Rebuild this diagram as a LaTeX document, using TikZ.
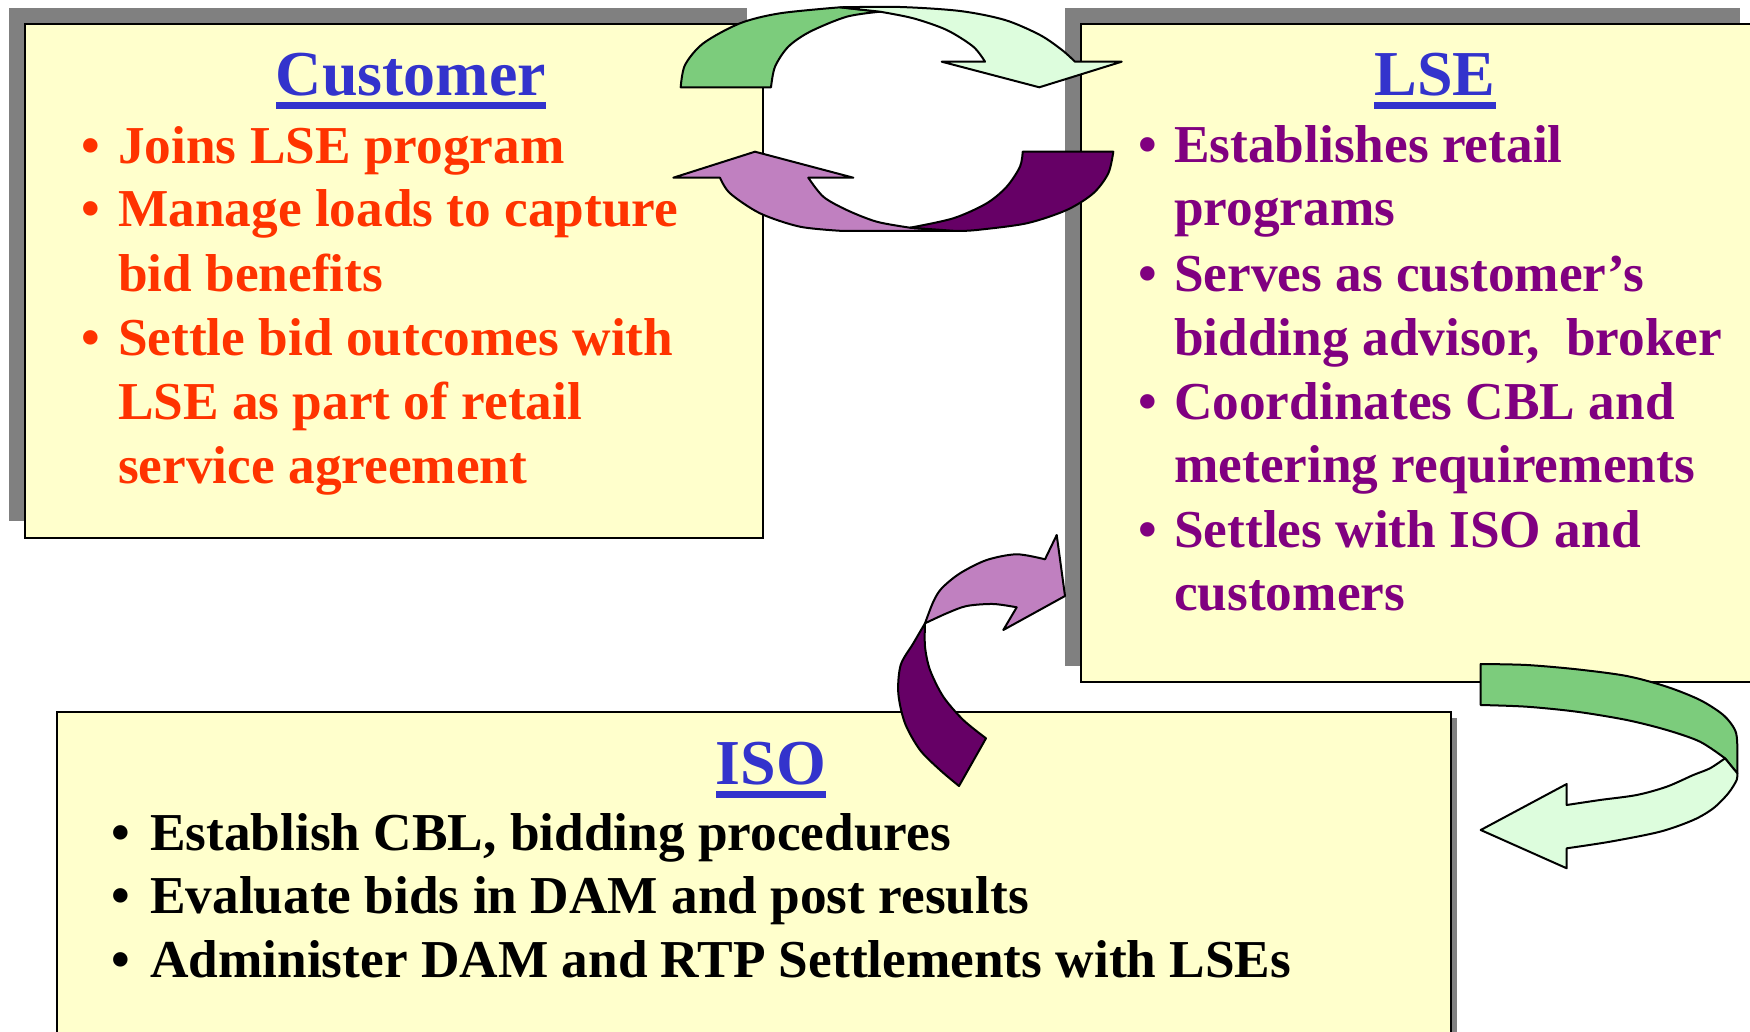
\documentclass[tikz,border=0pt]{standalone}
\usepackage{fontspec}
\setmainfont{Liberation Serif}
\usepackage{tikz}
\usetikzlibrary{positioning,calc}
\definecolor{boxfill}{RGB}{255,255,204}
\definecolor{shadowgray}{RGB}{128,128,128}
\definecolor{titleblue}{RGB}{51,51,204}
\definecolor{custred}{RGB}{255,51,0}
\definecolor{lsepurple}{RGB}{128,0,128}
\definecolor{arrowgreen}{RGB}{124,204,124}
\definecolor{arrowlight}{RGB}{221,253,221}
\definecolor{arrowlilac}{RGB}{192,128,192}
\definecolor{arrowplum}{RGB}{102,0,102}
\newcommand*{\titlefont}{\fontsize{64}{64}\selectfont\bfseries}
\newcommand*{\itemfont}{\fontsize{53.3}{64}\selectfont\bfseries}
\tikzset{
  box/.style={draw=black,line width=2.5pt,fill=boxfill},
  boxshadow/.style={fill=shadowgray},
  title/.style={anchor=base,inner sep=0pt,font=\titlefont,text=titleblue},
  item/.style={anchor=base west,inner sep=0pt,font=\itemfont},
  arrowpart/.style={draw=black,line width=2pt,line join=round},
}

\begin{document}
\begin{tikzpicture}[x=1pt,y=-1pt]
\path[use as bounding box,clip] (0,0) rectangle (1750,1032);

% boxes
\fill[boxshadow] (9,8) rectangle (747,521);
\draw[box] (25,24) rectangle (763,538);
\fill[boxshadow] (1065,8) rectangle (1740,666);
\draw[box] (1081,24) rectangle (1756,682);
\fill[boxshadow] (63,718) rectangle (1457,1056);
\draw[box] (57,712) rectangle (1451,1050);

% titles
\node[title] (custTitle) at (411,96) {Customer};
\node[title] (lseTitle) at (1435,96) {LSE};
\node[title] (isoTitle) at (771,784) {ISO};
\foreach \t in {custTitle,lseTitle,isoTitle}
  \fill[titleblue] ($(\t.base west)+(0,6.5)$) rectangle ($(\t.base east)+(0,13.5)$);

% Customer
\foreach \y/\s [count=\i] in {164/{Joins LSE program},227/{Manage loads to capture},
    291/{bid benefits},355/{Settle bid outcomes with},419/{LSE as part of retail},
    483/{service agreement}}
  \node[item,text=custred] (cust\i) at (118,\y) {\s};
\foreach \y [count=\i] in {164,227,355}
  \node[item,text=custred] (custDot\i) at (81,\y) {•};

% LSE
\foreach \y/\s [count=\i] in {163/{Establishes retail},226/{programs},
    291/{Serves as customer’s},355/{bidding advisor,~ broker},
    419/{Coordinates CBL and},482/{metering requirements},
    547/{Settles with ISO and},610/{customers}}
  \node[item,text=lsepurple] (lse\i) at (1174,\y) {\s};
\foreach \y [count=\i] in {163,291,419,547}
  \node[item,text=lsepurple] (lseDot\i) at (1138,\y) {•};

% ISO
\foreach \y/\s [count=\i] in {850/{Establish CBL, bidding procedures},
    913/{Evaluate bids in DAM and post results},
    977/{Administer DAM and RTP Settlements with LSEs}}
  \node[item] (iso\i) at (150,\y) {\s};
\foreach \y [count=\i] in {850,913,977}
  \node[item] (isoDot\i) at (111,\y) {•};

% Customer <-> LSE, upper arrow
\filldraw[arrowpart,fill=arrowgreen] (680.7,87.3)
  -- plot[smooth] coordinates {(680.7,87.3) (685,65) (703.3,43.3) (740,23.3) (780,13.3) (840,7.3)}
  -- (880,11.7)
  -- plot[smooth] coordinates {(880,11.7) (846.7,16.7) (810,31.7) (788.3,46.7) (775,66.7) (771,87.3)}
  -- cycle;
\filldraw[arrowpart,fill=arrowlight]
  plot[smooth] coordinates {(840,7.3) (900,7) (960,11) (1005,20) (1040,35) (1062,50) (1075,61.7)}
  -- (1121.7,61.7) -- (1039.3,87.3) -- (941.7,61.7) -- (985,61.7)
  -- plot[smooth] coordinates {(985,61.7) (973.3,46.7) (946.7,30) (913.3,18.3) (880,11.7)}
  -- cycle;

% Customer <-> LSE, lower arrow
\filldraw[arrowpart,fill=arrowlilac] (956.7,231) -- (843.3,231)
  -- plot[smooth] coordinates {(843.3,231) (800,226.7) (760,213.3) (730,193.3) (720,177.7)}
  -- (673.3,177.7) -- (755,151.7) -- (853.3,177.7) -- (808.3,177.7)
  -- plot[smooth] coordinates {(808.3,177.7) (823.3,196.7) (846.7,210) (876.7,221.7) (910,227.7)}
  -- cycle;
\filldraw[arrowpart,fill=arrowplum] (1022.7,151.7) -- (1113.3,151.7)
  -- plot[smooth] coordinates {(1113.3,151.7) (1108.3,173.3) (1093.3,193.3) (1066.7,210) (1026.7,223.3) (976.7,230) (956.7,231)}
  -- (910,227.7)
  -- plot[smooth] coordinates {(910,227.7) (953.3,218.3) (986.7,203.3) (1006.7,186.7) (1020,166.7) (1022.7,151.7)}
  -- cycle;

% ISO -> LSE
\filldraw[arrowpart,fill=arrowplum] (959,786) -- (986,738.3)
  -- plot[smooth] coordinates {(986,738.3) (963.3,720) (943.3,696.7) (930,670) (925,646.7) (925,623.3)}
  -- plot[smooth] coordinates {(925,623.3) (913.3,643.3) (900.7,665) (898.3,693.3) (905,723.3) (920,750) (940,770) (959,786)}
  -- cycle;
\filldraw[arrowpart,fill=arrowlilac]
  plot[smooth] coordinates {(925,623.3) (933.3,601.7) (941.7,588.3) (960,573.3) (986.7,560) (1016.7,554.3) (1045,559.3)}
  -- (1056.7,535) -- (1065,596) -- (1003.3,630) -- (1016.7,607.3)
  -- plot[smooth] coordinates {(1016.7,607.3) (993.3,604) (966.7,606) (946.7,613.3) (925,623.3)}
  -- cycle;

% LSE -> ISO
\filldraw[arrowpart,fill=arrowgreen] (1480.7,705) -- (1480.7,664)
  -- plot[smooth] coordinates {(1480.7,664) (1526.7,665) (1576.7,669.3) (1626.7,676) (1666.7,686.7) (1700,700) (1723.3,715) (1735,730) (1737.3,745) (1737.3,773.3)}
  -- (1725,758.3)
  -- plot[smooth] coordinates {(1725,758.3) (1700,741.7) (1666.7,730) (1626.7,720) (1576.7,711.7) (1526.7,706.7) (1480.7,705)}
  -- cycle;
\filldraw[arrowpart,fill=arrowlight]
  plot[smooth] coordinates {(1725,758.3) (1710,768.3) (1693.3,775) (1666.7,786.7) (1636.7,795) (1600,800) (1566.7,805)}
  -- (1566.7,784) -- (1480.7,830) -- (1566.7,868.3) -- (1566.7,848.3)
  -- plot[smooth] coordinates {(1566.7,848.3) (1610,841.7) (1660,831.7) (1693.3,820) (1713.3,808.3) (1728.3,793.3) (1736.7,780) (1737.3,773.3)}
  -- cycle;
\end{tikzpicture}
\end{document}
